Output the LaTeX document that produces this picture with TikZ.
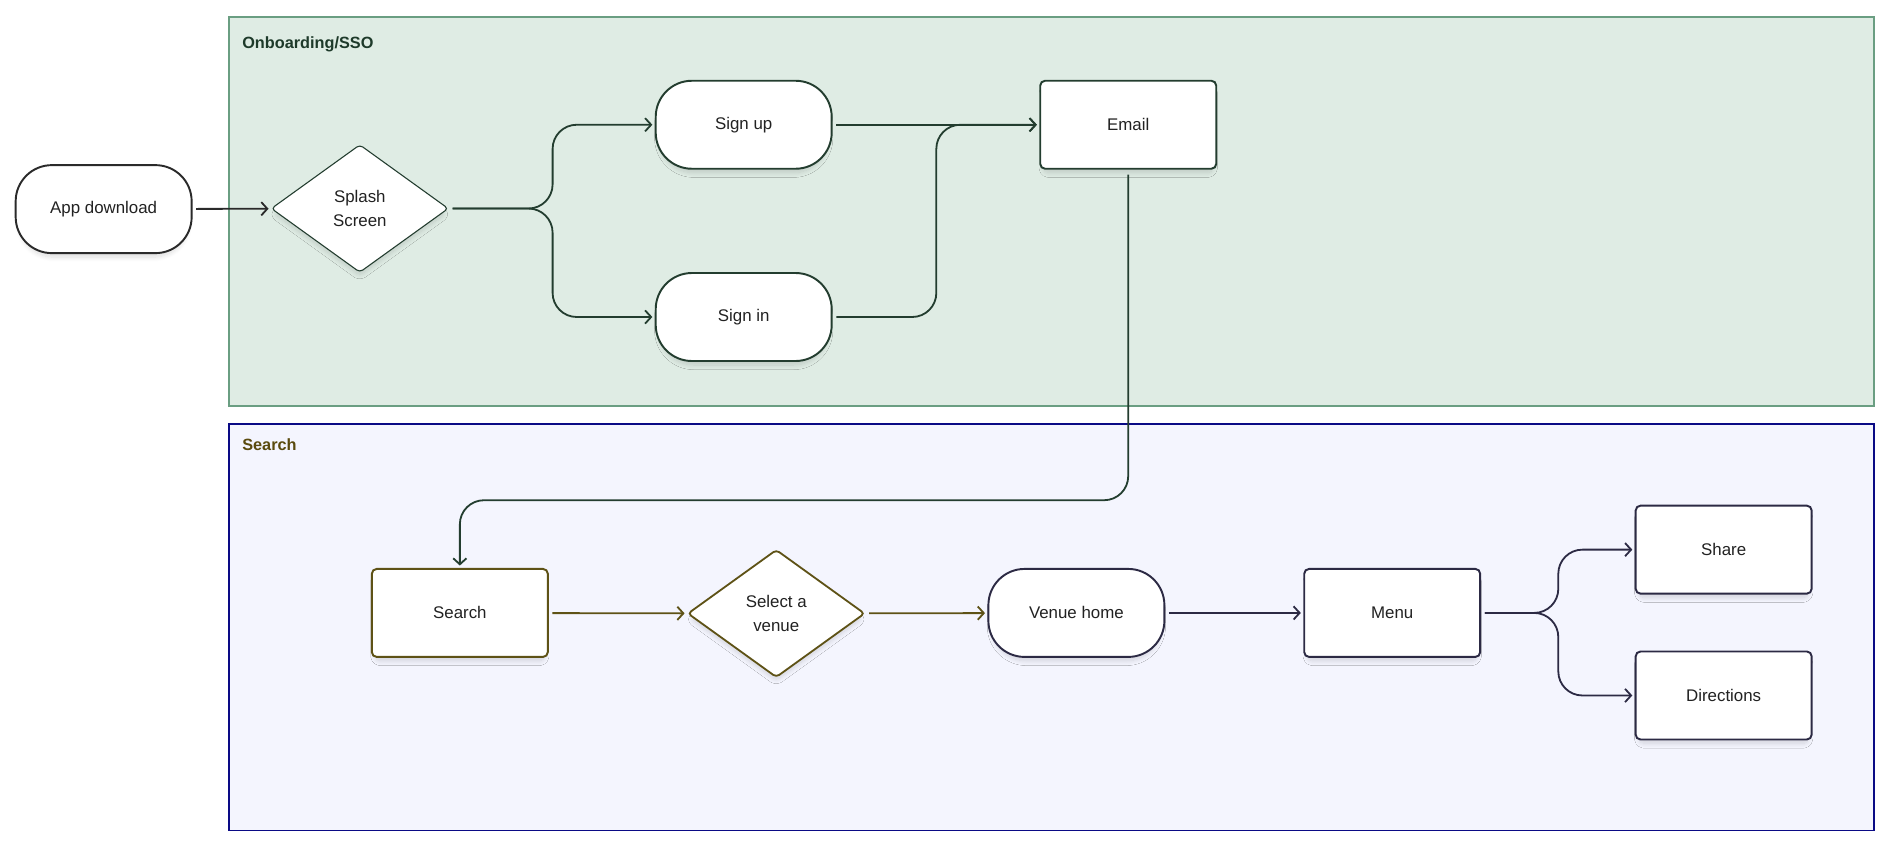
\documentclass[tikz,border=0pt]{standalone}
\usepackage{fontspec}
\setmainfont{Liberation Sans}
\usetikzlibrary{arrows.meta,shapes.geometric,shadows.blur,calc}
\definecolor{grfill}{HTML}{DFECE4}
\definecolor{grline}{HTML}{6A9E82}
\definecolor{grtitle}{HTML}{1E3A2A}
\definecolor{blfill}{HTML}{F4F5FE}
\definecolor{blline}{HTML}{0A0A85}
\definecolor{oltitle}{HTML}{5A4A0E}
\definecolor{txt}{HTML}{222222}
\definecolor{dk}{HTML}{2A2A2A}
\definecolor{dgreen}{HTML}{233D2F}
\definecolor{olive}{HTML}{5E5216}
\definecolor{navyd}{HTML}{2C2A44}
\begin{document}
\begin{tikzpicture}[x=1pt,y=-1pt,
  every node/.style={font=\fontsize{14}{20}\selectfont, text=txt},
  shad/.style={blur shadow={shadow xshift=0pt, shadow yshift=-5pt, shadow scale=0.96,
    shadow blur radius=4pt, shadow blur steps=12, shadow opacity=14}},
  pill/.style={rectangle, rounded corners=30pt, draw, line width=1.6pt, fill=white,
    minimum width=146pt, minimum height=73pt, inner sep=0pt, shad},
  box/.style={rectangle, rounded corners=4pt, draw, line width=1.6pt, fill=white,
    minimum width=146pt, minimum height=73pt, inner sep=0pt, shad},
  dia/.style={diamond, aspect=1.39, draw, fill=white, rounded corners=3pt,
    minimum width=147pt, minimum height=106pt, inner sep=0pt, align=center, shad},
  conn/.style={line width=1.5pt, rounded corners=20pt, shorten <=3pt, shorten >=2pt,
    -{Straight Barb[length=5pt,width=11pt]}},
  ttl/.style={anchor=west, font=\bfseries\fontsize{13.5}{16}\selectfont}
]
\useasboundingbox (0,0) rectangle (1568,702.7);
% frames
\draw[fill=grfill, draw=grline, line width=1.6pt] (190,14) rectangle (1555,337);
\node[ttl, text=grtitle] (t1) at (197.5,37) {Onboarding/SSO};
\draw[fill=blfill, draw=blline, line width=1.6pt] (190,352) rectangle (1555,689);
\node[ttl, text=oltitle] (t2) at (197.5,369) {Search};
% nodes
\node[pill, draw=dk] (app) at (86,173.5) {App download};
\node[dia, draw=dgreen, line width=0.9pt] (splash) at (298.5,173) {Splash\\Screen};
\node[pill, draw=dgreen] (signup) at (617,103.5) {Sign up};
\node[pill, draw=dgreen] (signin) at (617,263) {Sign in};
\node[box, draw=dgreen] (email) at (936,103.5) {Email};
\node[box, draw=olive] (search) at (381.5,508.5) {Search};
\node[dia, draw=olive, line width=1.5pt] (select) at (644,509) {Select a\\venue};
\node[pill, draw=navyd] (venue) at (893,508.5) {Venue home};
\node[box, draw=navyd] (menu) at (1155,508.5) {Menu};
\node[box, draw=navyd] (share) at (1430,456) {Share};
\node[box, draw=navyd] (dir) at (1430,577) {Directions};
\coordinate (turn) at (381.5,415);
% connectors
\draw[conn, draw=dk] (app) -- (splash);
\draw[conn, draw=dgreen] (splash.east) -- ++(86,0) |- (signup.west);
\draw[conn, draw=dgreen] (splash.east) -- ++(86,0) |- (signin.west);
\draw[conn, draw=dgreen] (signup) -- (email);
\draw[conn, draw=dgreen] (signin.east) -- ++(86,0) |- (email.west);
\draw[conn, draw=dgreen, shorten <=4pt] (email.south) |- (turn) -- (search.north);
\draw[conn, draw=olive] (search) -- (select);
\draw[conn, draw=olive] (select) -- (venue);
\draw[conn, draw=navyd] (venue) -- (menu);
\draw[conn, draw=navyd] (menu.east) -- ++(64,0) |- (share.west);
\draw[conn, draw=navyd] (menu.east) -- ++(64,0) |- (dir.west);
\end{tikzpicture}
\end{document}
